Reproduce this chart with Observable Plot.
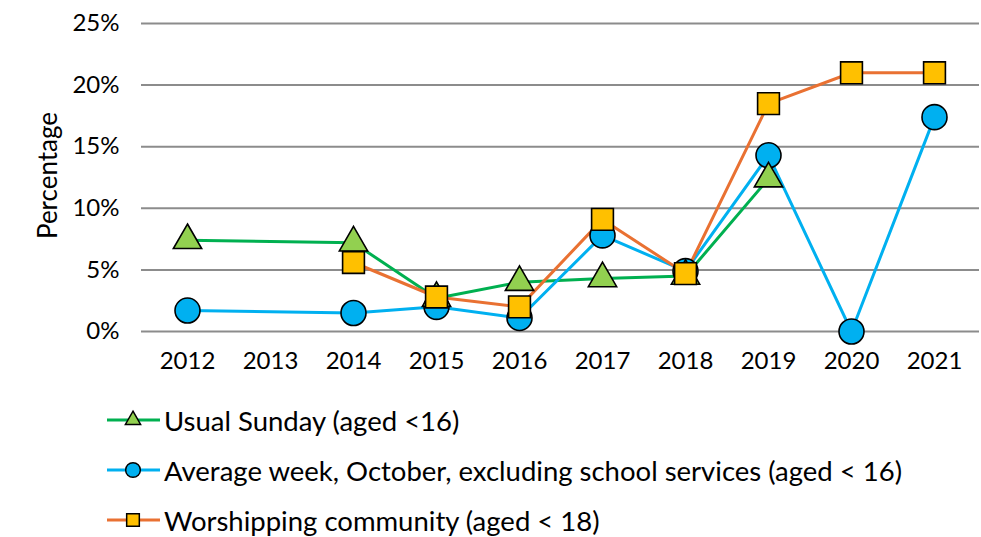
<!DOCTYPE html>
<html>
<head>
<meta charset="utf-8">
<script src="https://cdn.jsdelivr.net/npm/d3@7"></script>
<script src="https://cdn.jsdelivr.net/npm/@observablehq/plot@0.6"></script>
<style>
  html, body { margin: 0; padding: 0; background: #fff; }
  body { width: 981px; height: 537px; overflow: hidden; font-family: Lato, "Open Sans", sans-serif; }
  #legend { position: absolute; left: 105px; top: 395px; }
  .row { display: flex; align-items: center; height: 50px; font-size: 27.5px; color: #000; }
  .row svg { margin-right: 3px; }
</style>
</head>
<body>
<div id="chart"></div>
<div id="legend"></div>
<script>
const years = ["2012","2013","2014","2015","2016","2017","2018","2019","2020","2021"];
const usualSunday   = [7.4, null, 7.2, 2.7, 4.0, 4.3, 4.5, 12.4, null, null];
const averageWeek   = [1.7, null, 1.5, 2.0, 1.1, 7.8, 4.9, 14.3, 0.0, 17.4];
const worshipping   = [null, null, 5.6, 2.8, 2.0, 9.1, 4.7, 18.5, 21.0, 21.0];
const seriesNames = [
  "Usual Sunday (aged <16)",
  "Average week, October, excluding school services (aged < 16)",
  "Worshipping community (aged < 18)"
];
const yTicks = [0, 5, 10, 15, 20, 25];

const styles = [
  {line: "#00B050", fill: "#92D050", symbol: "triangle", r: 10.5},
  {line: "#00B0F0", fill: "#00B0F0", symbol: "circle", r: 12.5},
  {line: "#E97132", fill: "#FFC000", symbol: "square", r: 12.3}
];

function toRows(values) {
  return years.map((y, i) => ({year: y, value: values[i]})).filter(d => d.value != null);
}
const seriesData = [usualSunday, averageWeek, worshipping].map(toRows);

const lineMarks = seriesData.map((data, i) =>
  Plot.line(data, {x: "year", y: "value", stroke: styles[i].line, strokeWidth: 3}));
const dotOrder = [1, 0, 2];
const dotMarks = dotOrder.map(i =>
  Plot.dot(seriesData[i], {x: "year", y: "value", symbol: () => styles[i].symbol, r: styles[i].r,
    fill: styles[i].fill, stroke: "#000", strokeWidth: 1.6}));

const chart = Plot.plot({
  width: 981,
  height: 392,
  marginTop: 23,
  marginBottom: 61,
  marginLeft: 141,
  marginRight: 2,
  style: {fontFamily: "Lato, 'Open Sans', sans-serif", fontSize: "24px", color: "#000", background: "#fff", overflow: "visible"},
  symbol: {type: "identity"},
  x: {type: "point", domain: years, padding: 0.5, label: null},
  y: {domain: [0, 25], label: null},
  marks: [
    Plot.ruleY(yTicks, {stroke: "#8c8c8c", strokeWidth: 2}),
    Plot.axisY(yTicks, {tickSize: 0, tickPadding: 22, tickFormat: d => d + "%", label: null}),
    Plot.axisX({tickSize: 0, tickPadding: 20, label: null}),
    Plot.text(["Percentage"], {frameAnchor: "left", textAnchor: "middle", dx: -93, dy: -2, rotate: -90, fontSize: 26, fill: "#000"}),
    ...lineMarks,
    ...dotMarks
  ]
});
document.getElementById("chart").append(chart);

// Legend
const legend = document.getElementById("legend");
seriesNames.forEach((name, i) => {
  const s = styles[i];
  const row = document.createElement("div");
  row.className = "row";
  const svg = d3.create("svg").attr("width", 56).attr("height", 30);
  svg.append("line").attr("x1", 2).attr("x2", 55).attr("y1", 15).attr("y2", 15)
    .attr("stroke", s.line).attr("stroke-width", 3);
  const sym = {triangle: d3.symbolTriangle, circle: d3.symbolCircle, square: d3.symbolSquare}[s.symbol];
  const size = {triangle: 100, circle: 170, square: 160}[s.symbol];
  svg.append("path").attr("transform", "translate(28,15)")
    .attr("d", d3.symbol(sym, size)()).attr("fill", s.fill).attr("stroke", "#000").attr("stroke-width", 1.5);
  row.append(svg.node());
  const span = document.createElement("span");
  span.textContent = name;
  row.append(span);
  legend.append(row);
});
</script>
</body>
</html>
